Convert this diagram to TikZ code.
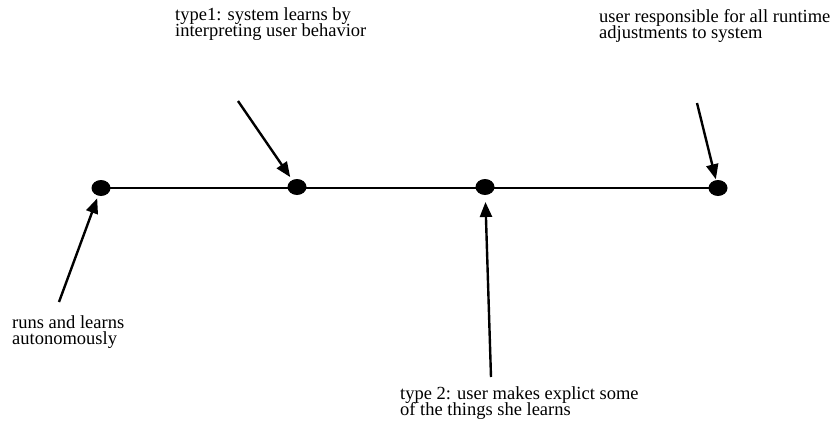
\documentclass[tikz,border=0pt]{standalone}
\usepackage{fontspec}
\setmainfont{Liberation Serif}
\usetikzlibrary{arrows.meta,shapes.geometric}
\newcommand\labelfont{\fontsize{18.5pt}{16.5pt}\selectfont\setlength{\lineskiplimit}{-50pt}\setlength{\lineskip}{0pt}}
\tikzset{
  dotnode/.style={ellipse, fill=black, inner sep=0pt, minimum width=19pt, minimum height=16pt},
  pointer/.style={line width=2.4pt, -{Triangle[length=15pt,width=12pt]}},
  lbl/.style={anchor=base west, align=left, inner sep=0pt, font=\labelfont},
}
\begin{document}
\begin{tikzpicture}[x=1pt,y=-1pt]
\useasboundingbox (0,0) rectangle (836,426);
\draw[line width=2pt] (101,188) -- (718,188);
\node[dotnode] (d1) at (101,188) {};
\node[dotnode] (d2) at (297,187) {};
\node[dotnode] (d3) at (485,187) {};
\node[dotnode] (d4) at (718,188) {};
\coordinate (t1) at (59,302);
\coordinate (t2) at (238,101);
\coordinate (t3) at (491,377);
\coordinate (t4) at (697,103);
\draw[pointer, shorten >=11pt] (t1) -- (d1.center);
\draw[pointer, shorten >=12pt] (t2) -- (d2.center);
\draw[pointer, shorten >=15pt] (t3) -- (d3.center);
\draw[pointer, shorten >=9pt] (t4) -- (d4.center);
\node[lbl] (l2) at (175,36.5) {type1: system learns by\\interpreting user behavior};
\node[lbl] (l4) at (599,38.5) {user responsible for all runtime\\adjustments to system};
\node[lbl] (l1) at (12,344.5) {runs and learns\\autonomously};
\node[lbl] (l3) at (400,415.5) {type 2: user makes explict some\\of the things she learns};
\end{tikzpicture}
\end{document}
